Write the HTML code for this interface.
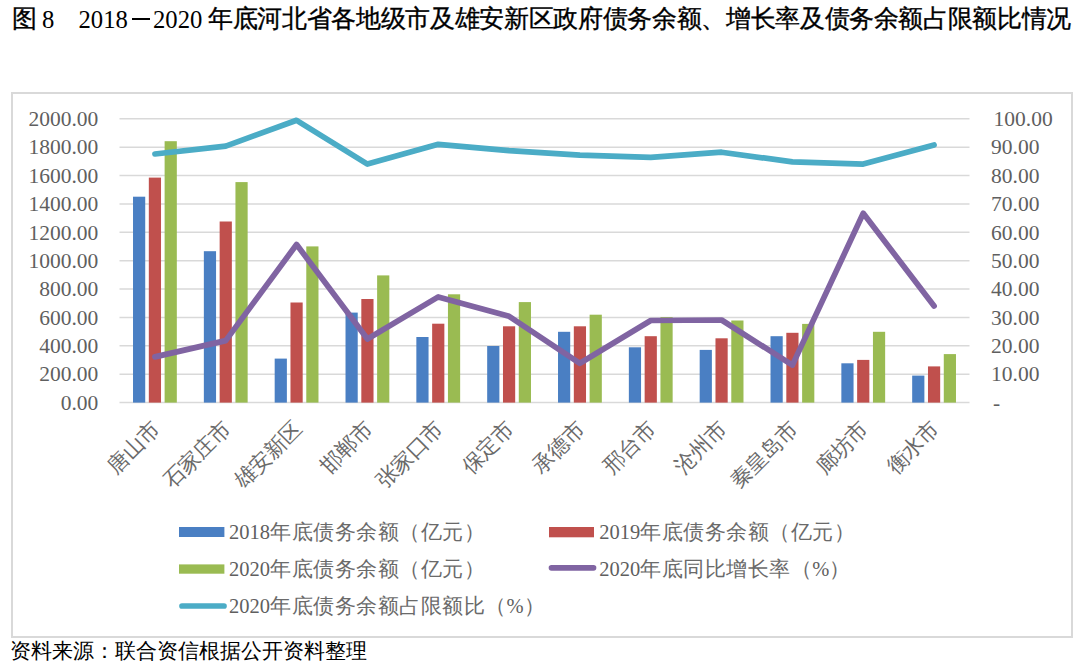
<!DOCTYPE html>
<html><head><meta charset="utf-8">
<style>
html,body{margin:0;padding:0;background:#fff;}
body{width:1080px;height:667px;position:relative;overflow:hidden;}
.t{position:absolute;top:1px;line-height:36px;white-space:nowrap;color:#000;}
.ts{font-family:"Liberation Sans",sans-serif;font-size:24.66px;font-weight:400;-webkit-text-stroke:0.35px #000;}
.tn{font-family:"Liberation Serif",serif;font-size:24.66px;}
.dash{position:absolute;left:131.9px;top:17.6px;width:18.3px;height:2px;background:#000;}
.box{position:absolute;left:11px;top:91.5px;width:1058px;height:542px;border:2px solid #d9d9d9;}
svg{position:absolute;left:0;top:0;}
.ax{font-family:"Liberation Serif",serif;font-size:21.5px;fill:#5f5f5f;}
.cat{font-family:"Liberation Serif",serif;font-size:21.4px;fill:#6a6a6a;}
.lg{font-family:"Liberation Serif",serif;font-size:20.5px;fill:#5f5f5f;}
.lgc{font-size:21.4px;letter-spacing:0.5px;fill:#6a6a6a;}
.foot{position:absolute;left:10px;top:636px;font-family:"Liberation Serif",serif;font-size:21px;color:#000;white-space:nowrap;line-height:30px;}
</style></head>
<body>
<div class="t ts" style="left:12px">图</div>
<div class="t tn" style="left:42px;top:1.7px">8</div>
<div class="t tn" style="left:78.5px;top:1.7px">2018</div>
<div class="dash"></div>
<div class="t tn" style="left:153px;top:1.7px">2020</div>
<div class="t ts" style="left:208px;letter-spacing:-0.34px">年底河北省各地级市及雄安新区政府债务余额、增长率及债务余额占限额比情况</div>
<div class="box"></div>
<svg width="1080" height="667" viewBox="0 0 1080 667">
<line x1="119.5" y1="402.60" x2="969.5" y2="402.60" stroke="#d9d9d9" stroke-width="1.5"/>
<line x1="119.5" y1="374.22" x2="969.5" y2="374.22" stroke="#d9d9d9" stroke-width="1.5"/>
<line x1="119.5" y1="345.84" x2="969.5" y2="345.84" stroke="#d9d9d9" stroke-width="1.5"/>
<line x1="119.5" y1="317.46" x2="969.5" y2="317.46" stroke="#d9d9d9" stroke-width="1.5"/>
<line x1="119.5" y1="289.08" x2="969.5" y2="289.08" stroke="#d9d9d9" stroke-width="1.5"/>
<line x1="119.5" y1="260.70" x2="969.5" y2="260.70" stroke="#d9d9d9" stroke-width="1.5"/>
<line x1="119.5" y1="232.32" x2="969.5" y2="232.32" stroke="#d9d9d9" stroke-width="1.5"/>
<line x1="119.5" y1="203.94" x2="969.5" y2="203.94" stroke="#d9d9d9" stroke-width="1.5"/>
<line x1="119.5" y1="175.56" x2="969.5" y2="175.56" stroke="#d9d9d9" stroke-width="1.5"/>
<line x1="119.5" y1="147.18" x2="969.5" y2="147.18" stroke="#d9d9d9" stroke-width="1.5"/>
<line x1="119.5" y1="118.80" x2="969.5" y2="118.80" stroke="#d9d9d9" stroke-width="1.5"/>
<rect x="133.02" y="196.70" width="12.2" height="205.90" fill="#4A7FC3"/>
<rect x="148.82" y="177.60" width="12.2" height="225.00" fill="#C0504D"/>
<rect x="164.62" y="141.20" width="12.2" height="261.40" fill="#9ABB52"/>
<rect x="203.85" y="251.20" width="12.2" height="151.40" fill="#4A7FC3"/>
<rect x="219.65" y="221.50" width="12.2" height="181.10" fill="#C0504D"/>
<rect x="235.45" y="182.10" width="12.2" height="220.50" fill="#9ABB52"/>
<rect x="274.68" y="358.60" width="12.2" height="44.00" fill="#4A7FC3"/>
<rect x="290.48" y="302.50" width="12.2" height="100.10" fill="#C0504D"/>
<rect x="306.28" y="246.40" width="12.2" height="156.20" fill="#9ABB52"/>
<rect x="345.52" y="312.60" width="12.2" height="90.00" fill="#4A7FC3"/>
<rect x="361.32" y="299.00" width="12.2" height="103.60" fill="#C0504D"/>
<rect x="377.12" y="275.40" width="12.2" height="127.20" fill="#9ABB52"/>
<rect x="416.35" y="337.00" width="12.2" height="65.60" fill="#4A7FC3"/>
<rect x="432.15" y="323.70" width="12.2" height="78.90" fill="#C0504D"/>
<rect x="447.95" y="294.30" width="12.2" height="108.30" fill="#9ABB52"/>
<rect x="487.18" y="346.00" width="12.2" height="56.60" fill="#4A7FC3"/>
<rect x="502.98" y="326.30" width="12.2" height="76.30" fill="#C0504D"/>
<rect x="518.78" y="302.10" width="12.2" height="100.50" fill="#9ABB52"/>
<rect x="558.02" y="331.80" width="12.2" height="70.80" fill="#4A7FC3"/>
<rect x="573.82" y="326.30" width="12.2" height="76.30" fill="#C0504D"/>
<rect x="589.62" y="314.70" width="12.2" height="87.90" fill="#9ABB52"/>
<rect x="628.85" y="347.30" width="12.2" height="55.30" fill="#4A7FC3"/>
<rect x="644.65" y="336.20" width="12.2" height="66.40" fill="#C0504D"/>
<rect x="660.45" y="317.10" width="12.2" height="85.50" fill="#9ABB52"/>
<rect x="699.68" y="349.90" width="12.2" height="52.70" fill="#4A7FC3"/>
<rect x="715.48" y="338.30" width="12.2" height="64.30" fill="#C0504D"/>
<rect x="731.28" y="320.50" width="12.2" height="82.10" fill="#9ABB52"/>
<rect x="770.52" y="336.20" width="12.2" height="66.40" fill="#4A7FC3"/>
<rect x="786.32" y="332.80" width="12.2" height="69.80" fill="#C0504D"/>
<rect x="802.12" y="323.90" width="12.2" height="78.70" fill="#9ABB52"/>
<rect x="841.35" y="363.30" width="12.2" height="39.30" fill="#4A7FC3"/>
<rect x="857.15" y="359.90" width="12.2" height="42.70" fill="#C0504D"/>
<rect x="872.95" y="331.80" width="12.2" height="70.80" fill="#9ABB52"/>
<rect x="912.18" y="375.60" width="12.2" height="27.00" fill="#4A7FC3"/>
<rect x="927.98" y="366.40" width="12.2" height="36.20" fill="#C0504D"/>
<rect x="943.78" y="354.10" width="12.2" height="48.50" fill="#9ABB52"/>
<polyline points="154.92,356.90 225.75,340.60 296.58,244.50 367.42,339.00 438.25,296.90 509.08,316.30 579.92,363.30 650.75,320.50 721.58,320.00 792.42,365.10 863.25,213.30 934.08,306.10" fill="none" stroke="#8064A2" stroke-width="5.7" stroke-linecap="round" stroke-linejoin="round"/>
<polyline points="154.92,154.00 225.75,146.10 296.58,120.30 367.42,164.10 438.25,144.30 509.08,150.60 579.92,155.10 650.75,157.40 721.58,152.20 792.42,161.90 863.25,164.10 934.08,145.00" fill="none" stroke="#4BACC6" stroke-width="5.7" stroke-linecap="round" stroke-linejoin="round"/>
<text x="98.3" y="409.80" text-anchor="end" class="ax">0.00</text>
<text x="98.3" y="381.42" text-anchor="end" class="ax">200.00</text>
<text x="98.3" y="353.04" text-anchor="end" class="ax">400.00</text>
<text x="98.3" y="324.66" text-anchor="end" class="ax">600.00</text>
<text x="98.3" y="296.28" text-anchor="end" class="ax">800.00</text>
<text x="98.3" y="267.90" text-anchor="end" class="ax">1000.00</text>
<text x="98.3" y="239.52" text-anchor="end" class="ax">1200.00</text>
<text x="98.3" y="211.14" text-anchor="end" class="ax">1400.00</text>
<text x="98.3" y="182.76" text-anchor="end" class="ax">1600.00</text>
<text x="98.3" y="154.38" text-anchor="end" class="ax">1800.00</text>
<text x="98.3" y="126.00" text-anchor="end" class="ax">2000.00</text>
<text x="993" y="409.80" class="ax">-</text>
<text x="991" y="381.42" class="ax">10.00</text>
<text x="991" y="353.04" class="ax">20.00</text>
<text x="991" y="324.66" class="ax">30.00</text>
<text x="991" y="296.28" class="ax">40.00</text>
<text x="991" y="267.90" class="ax">50.00</text>
<text x="991" y="239.52" class="ax">60.00</text>
<text x="991" y="211.14" class="ax">70.00</text>
<text x="991" y="182.76" class="ax">80.00</text>
<text x="991" y="154.38" class="ax">90.00</text>
<text x="993.5" y="126.00" class="ax">100.00</text>
<text x="160.92" y="430" text-anchor="end" class="cat" transform="rotate(-45 160.92 430)">唐山市</text>
<text x="231.75" y="430" text-anchor="end" class="cat" transform="rotate(-45 231.75 430)">石家庄市</text>
<text x="302.58" y="430" text-anchor="end" class="cat" transform="rotate(-45 302.58 430)">雄安新区</text>
<text x="373.42" y="430" text-anchor="end" class="cat" transform="rotate(-45 373.42 430)">邯郸市</text>
<text x="444.25" y="430" text-anchor="end" class="cat" transform="rotate(-45 444.25 430)">张家口市</text>
<text x="515.08" y="430" text-anchor="end" class="cat" transform="rotate(-45 515.08 430)">保定市</text>
<text x="585.92" y="430" text-anchor="end" class="cat" transform="rotate(-45 585.92 430)">承德市</text>
<text x="656.75" y="430" text-anchor="end" class="cat" transform="rotate(-45 656.75 430)">邢台市</text>
<text x="727.58" y="430" text-anchor="end" class="cat" transform="rotate(-45 727.58 430)">沧州市</text>
<text x="798.42" y="430" text-anchor="end" class="cat" transform="rotate(-45 798.42 430)">秦皇岛市</text>
<text x="869.25" y="430" text-anchor="end" class="cat" transform="rotate(-45 869.25 430)">廊坊市</text>
<text x="940.08" y="430" text-anchor="end" class="cat" transform="rotate(-45 940.08 430)">衡水市</text>
<rect x="179" y="527" width="45.4" height="10" fill="#4A7FC3"/>
<text x="229" y="538.5" class="lg">2018<tspan class="lgc">年底债务余额（亿元）</tspan></text>
<rect x="549" y="527" width="45" height="10.3" fill="#C0504D"/>
<text x="599.3" y="538.5" class="lg">2019<tspan class="lgc">年底债务余额（亿元）</tspan></text>
<rect x="179" y="564.4" width="45.4" height="9.3" fill="#9ABB52"/>
<text x="229" y="575.5" class="lg">2020<tspan class="lgc">年底债务余额（亿元）</tspan></text>
<line x1="551.5" y1="567.8" x2="593.5" y2="567.8" stroke="#8064A2" stroke-width="5.7" stroke-linecap="round"/>
<text x="599.3" y="575.5" class="lg">2020<tspan class="lgc">年底同比增长率（</tspan>%<tspan class="lgc">）</tspan></text>
<line x1="182" y1="606" x2="224" y2="606" stroke="#4BACC6" stroke-width="5.7" stroke-linecap="round"/>
<text x="229" y="612.5" class="lg">2020<tspan class="lgc">年底债务余额占限额比（</tspan>%<tspan class="lgc">）</tspan></text>
</svg>
<div class="foot">资料来源：联合资信根据公开资料整理</div>
</body></html>
